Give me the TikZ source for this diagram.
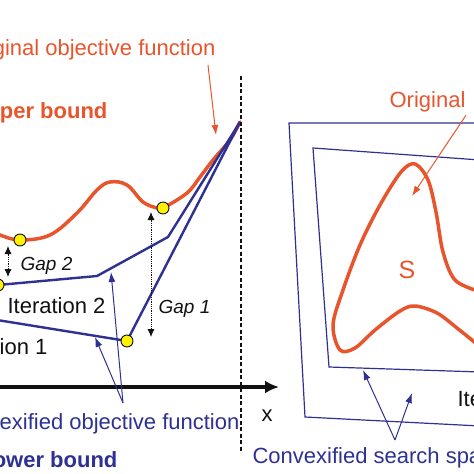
\documentclass[tikz,border=0pt]{standalone}
\usepackage{fontspec}
\setmainfont{Liberation Sans}
\usetikzlibrary{arrows.meta}
\definecolor{ink}{HTML}{111111}
\definecolor{flame}{HTML}{E8552C}
\definecolor{navy}{HTML}{2E3192}
\definecolor{lemon}{HTML}{FFF200}

\begin{document}
\begin{tikzpicture}[
    x=1pt, y=-1pt, line width=1.2pt, color=ink,
    lab/.style={font=\fontsize{22}{26}\selectfont, text=ink, inner sep=0pt},
    boldlab/.style={font=\fontsize{22}{26}\selectfont\bfseries, inner sep=0pt},
    gaplab/.style={font=\fontsize{19}{22}\selectfont\itshape, text=ink, inner sep=0pt},
    fcurve/.style={flame, line width=3.5pt, line cap=round, line join=round},
    hull/.style={navy, line width=2.4pt, line join=round},
    region/.style={navy, line width=1.2pt},
    dot/.style={circle, fill=lemon, draw=ink, line width=0.9pt, inner sep=0pt, minimum size=12pt},
    gap/.style={densely dotted, line width=0.8pt, {Latex[length=8pt,width=7pt]}-{Latex[length=8pt,width=7pt]}},
    pointer/.style={line width=1pt, -{Latex[length=10pt,width=7pt]}}]
  % fixed 474 x 474 canvas (1 unit = 1 pt, y downwards)
  \path[use as bounding box] (0,0) rectangle (474,474);
  \clip (0,0) rectangle (474,474);

  % ================= 1) objective function and its convex underestimators =================
  \coordinate (top) at (240,122);
  \coordinate (m2) at (-2,285);
  \coordinate (m1) at (127,341);
  \coordinate (u2) at (20,240);
  \coordinate (u1) at (163,208);

  % original objective function
  \draw[fcurve] plot[smooth, tension=0.6] coordinates
    {(-10,230) (0,235) (20,240) (50,235) (77,213) (97,190) (110,182) (127,185)
     (143,202) (157,208) (163,208) (187,193) (200,177) (213,160) (230,140) (240,122)};

  % convexified functions, iteration 2 and iteration 1
  \draw[hull] (-40,289) -- (m2) -- (97,276) -- (168,237) -- (top);
  \draw[hull] (-40,314) -- (m1) -- (top);

  \foreach \p in {m1,m2,u1,u2}
    \node[dot] (dot-\p) at (\p) {};

  % gaps between upper and lower bound
  \draw[gap] (8,246) -- (8,277);
  \draw[gap] (151,212) -- (151,337);
  \node[gaplab, anchor=base west] (gap2) at (20,270) {Gap 2};
  \node[gaplab, anchor=base west] (gap1) at (158,313) {Gap 1};

  \node[lab, anchor=base west] (it2) at (7,313) {Iteration 2};
  \node[lab, anchor=base east] (it1) at (48,354) {Iteration 1};

  % x axis
  \draw[line width=4pt, -{Latex[length=14pt,width=13pt]}] (-5,387) -- (279,387);
  \node[lab, anchor=base] (xlab) at (267,421) {x};

  % labels of the left panel
  \node[lab, text=flame, anchor=base east] (origlab) at (216,55) {Original objective function};
  \node[boldlab, text=flame, anchor=base east] (ublab) at (108,118) {Upper bound};
  \node[lab, text=navy, anchor=base east] (convlab) at (240,429) {Convexified objective function};
  \node[boldlab, text=navy, anchor=base east] (lblab) at (118,467) {Lower bound};

  \coordinate (origtip) at (216,135);
  \draw[flame, pointer] ([xshift=-8pt,yshift=-5pt]origlab.south east) -- (origtip);
  \coordinate (convapex) at (123,403);
  \draw[navy, pointer] (convapex) -- (95,337);
  \draw[navy, pointer] (convapex) -- (111,272);

  % separator
  \draw[line width=1.3pt, dash pattern=on 4pt off 2.5pt] (241,76) -- (241,453);

  % ================= 2) search space and its convex relaxations =================
  \draw[region] (480,123) -- (289,123) -- (305,417) -- (480,426);
  \draw[region] (480,160) -- (313,148) -- (329,367) -- (480,372);

  % original (nonconvex) region S
  \draw[fcurve] plot[smooth, tension=0.55] coordinates
    {(478,291) (455,280) (443,252) (436,212) (428,180) (415,164) (401,172) (380,205)
     (360,245) (343,290) (333,325) (340,350) (355,348) (375,330) (400,311) (415,306)
     (437,313) (457,328) (478,345)};
  \node[font=\fontsize{25}{28}\selectfont, text=flame, inner sep=0pt, anchor=base] (slab) at (407,278) {S};

  \node[lab, text=flame, anchor=base west] (origreg) at (389,107) {Original};
  \coordinate (regtip) at (412,196);
  \draw[flame, pointer] ([yshift=-3pt]origreg.south east) -- (regtip);

  \node[lab, anchor=base west] (it1r) at (457,406) {Iteration 1};

  \node[lab, text=navy, anchor=base west] (csslab) at (252,463) {Convexified search space};
  \coordinate (cssapex) at (395,440);
  \draw[navy, pointer] (cssapex) -- (363,370);
  \draw[navy, pointer] (cssapex) -- (412,393);
\end{tikzpicture}
\end{document}
